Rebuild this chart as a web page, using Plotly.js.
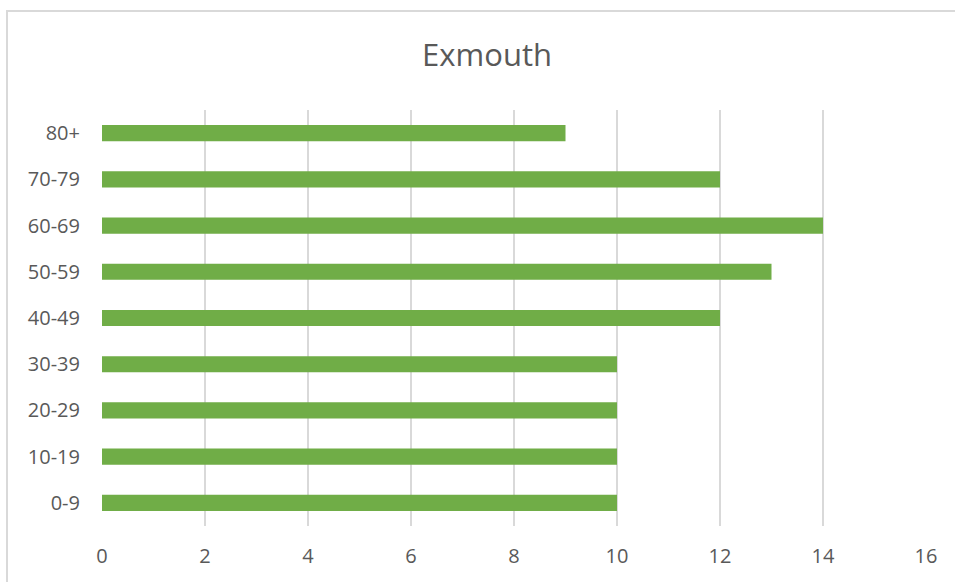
<!DOCTYPE html>
<html>
<head>
<meta charset="utf-8">
<script src="https://cdn.plot.ly/plotly-3.0.1.min.js"></script>
<style>
  html, body { margin: 0; padding: 0; background: #fff; }
  #frame { position: absolute; left: 6px; top: 10px; width: 949px; height: 572px;
           border-top: 2px solid #D9D9D9; border-left: 2px solid #D9D9D9; box-sizing: border-box; pointer-events: none; z-index: 10; }
  #chart { position: absolute; left: 0; top: 0; width: 955px; height: 582px; }
</style>
</head>
<body>
<div id="chart"></div>
<div id="frame"></div>
<script>
const chartTitle = "Exmouth";
const ageGroups = ["0-9", "10-19", "20-29", "30-39", "40-49", "50-59", "60-69", "70-79", "80+"];
const counts = [10, 10, 10, 10, 12, 13, 14, 12, 9];
const xTicks = [0, 2, 4, 6, 8, 10, 12, 14, 16];

const textColor = "#595959";
const fontFam = "'Open Sans', 'Noto Sans', sans-serif";

const trace = {
  type: "bar",
  orientation: "h",
  y: ageGroups,
  x: counts,
  width: 0.35,
  marker: { color: "#70AD47" },
  hoverinfo: "x+y"
};

const layout = {
  width: 955,
  height: 582,
  margin: { l: 102, r: 29, t: 110, b: 56 },
  paper_bgcolor: "#fff",
  plot_bgcolor: "#fff",
  showlegend: false,
  title: {
    text: chartTitle,
    font: { family: fontFam, size: 31, color: textColor },
    x: 0.51, xanchor: "center",
    y: 0.905, yanchor: "middle"
  },
  xaxis: {
    range: [0, 16],
    tickvals: xTicks,
    ticktext: xTicks.map(String),
    showgrid: true,
    gridcolor: "#D9D9D9",
    gridwidth: 2,
    zeroline: false,
    showline: false,
    ticks: "",
    ticklabelstandoff: 16,
    tickfont: { family: fontFam, size: 20, color: textColor },
    fixedrange: true
  },
  yaxis: {
    type: "category",
    categoryorder: "array",
    categoryarray: ageGroups,
    range: [-0.5, ageGroups.length - 0.5],
    showgrid: false,
    zeroline: false,
    showline: false,
    ticks: "",
    ticklabelstandoff: 21,
    tickfont: { family: fontFam, size: 20, color: textColor },
    fixedrange: true
  }
};

Plotly.newPlot("chart", [trace], layout, { displayModeBar: false, staticPlot: true });
</script>
</body>
</html>
